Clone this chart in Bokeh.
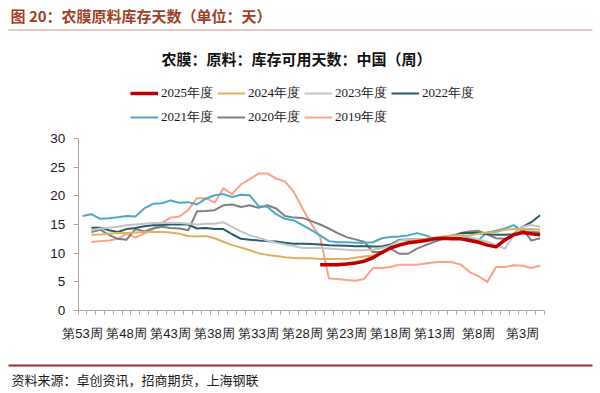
from bokeh.plotting import figure
from bokeh.models import Range1d, FixedTicker, Label, Legend, LegendItem, BoxAnnotation
from bokeh.embed import file_html
from bokeh.resources import INLINE

NA = float("nan")

# ---------------- data ----------------
weeks = list(range(53, 0, -1))          # 第53周 ... 第1周 (left -> right)
tick_weeks = [53, 48, 43, 38, 33, 28, 23, 18, 13, 8, 3]
tick_labels = ["第53周", "第48周", "第43周", "第38周", "第33周", "第28周",
               "第23周", "第18周", "第13周", "第8周", "第3周"]
y_ticks = [0, 5, 10, 15, 20, 25, 30]

y2025 = [NA] * 27 + [8.0, 8.0, 8.0, 8.1, 8.3, 8.6, 9.2, 10.1, 10.9, 11.4, 11.8, 12.0, 12.2,
                     12.5, 12.6, 12.5, 12.5, 12.2, 11.9, 11.4, 11.1, 12.3, 13.2, 13.6, 13.4, 13.2]
y2024 = [NA, 13.2, 13.25, 13.4, 13.5, 13.5, 13.6, 13.7, 13.7, 13.7, 13.6, 13.4, 13.0, 12.9,
         13.0, 12.6, 12.0, 11.4, 11.0, 10.5, 10.0, 9.7, 9.5, 9.3, 9.15, 9.1, 9.1, 9.0,
         9.0, 9.0, 9.0, 9.2, 9.4, 9.6, 10.0, 10.9, 11.6, 12.0, 12.3, 12.5, 12.7, 12.9,
         13.1, 13.1, 13.1, 13.4, 13.6, 13.7, 14.1, 14.2, 14.2, 14.2, 14.1]
y2023 = [NA, 14.0, 14.3, 14.45, 14.6, 14.85, 15.0, 15.15, 15.25, 15.25, 15.25, 15.25, 15.15,
         15.0, 15.15, 15.15, 15.4, 14.6, 13.8, 13.1, 12.7, 12.2, 11.8, 11.5, 11.25, 10.9,
         10.9, 10.9, 10.8, 10.7, 10.6, 10.5, 10.5, 10.6, 10.9, 11.3, 12.2, 12.4, 12.4, 12.4,
         12.5, 12.7, 12.8, 13.2, 12.8, 12.4, 12.0, 11.4, 10.8, 13.1, 14.6, 14.9, 14.6]
y2022 = [NA, 14.45, 14.45, 14.0, 13.7, 14.2, 14.4, 14.7, 14.85, 14.9, 15.0, 15.0, 15.0,
         14.3, 14.4, 14.2, 14.2, 13.3, 12.5, 12.35, 12.2, 12.1, 12.05, 11.8, 11.65, 11.65,
         11.6, 11.5, 11.4, 11.35, 11.3, 11.2, 11.2, 11.15, 11.15, 11.5, 12.3, 12.4, 12.4,
         12.4, 12.5, 12.5, 12.6, 13.5, 13.5, 13.5, 13.3, 13.2, 13.2, 13.3, 14.6, 15.4, 16.6]
y2021 = [16.5, 16.8, 16.0, 16.1, 16.25, 16.5, 16.4, 17.8, 18.6, 18.7, 19.2, 18.8, 18.9,
         18.5, 19.5, 20.1, 20.3, 19.8, 20.2, 20.1, 18.2, 18.1, 16.8, 16.0, 15.7, 14.9, 14.0,
         13.1, 12.1, 11.9, 11.9, 11.8, 11.8, 11.9, 12.6, 12.8, 12.9, 13.1, 13.5, 13.1, 12.5,
         12.5, 13.1, 13.3, 12.5, 12.3, 13.6, 13.9, 14.3, 14.9, 13.8, 13.8, 13.6]
y2020 = [NA, 13.7, 14.1, 13.2, 12.5, 12.35, 14.2, 13.8, 14.3, 14.6, 14.4, 14.3, 14.0, 17.3,
         17.35, 17.5, 18.35, 18.5, 18.05, 18.35, 17.9, 18.35, 17.8, 16.5, 16.2, 16.15, 15.6,
         15.0, 14.3, 13.5, 12.8, 12.4, 12.0, 10.2, 10.2, 10.8, 9.9, 9.9, 10.8, 11.4, 12.0,
         12.5, 13.1, 13.5, 13.8, 13.9, 13.3, 12.6, 12.5, 13.2, 14.3, 12.2, 12.6]
y2019 = [NA, 11.95, 12.1, 12.2, 12.5, 13.4, 12.7, 13.4, 14.2, 15.3, 16.2, 16.4, 17.5, 19.6,
         19.6, 18.8, 21.3, 20.3, 22.0, 22.9, 23.9, 23.9, 23.0, 22.5, 20.7, 17.8, 15.1, 12.8,
         5.6, 5.5, 5.3, 5.2, 5.5, 7.4, 7.4, 7.6, 8.0, 8.0, 8.0, 8.2, 8.4, 8.5, 8.4, 8.0,
         6.7, 6.0, 5.0, 7.6, 7.6, 7.9, 7.8, 7.4, 7.8]

series_names = ["2025年度", "2024年度", "2023年度", "2022年度", "2021年度", "2020年度", "2019年度"]
series_values = [y2025, y2024, y2023, y2022, y2021, y2020, y2019]
series_colors = ["#C00000", "#DEB25A", "#C4C4C4", "#255D6C", "#4BA9C6", "#7F7F7F", "#FF9F88"]
series_widths = [3.5, 2, 2, 2, 2, 2, 2]

# ---------------- layout geometry (page pixels) ----------------
W, H = 600, 393
PLOT_L, PLOT_R, PLOT_T, PLOT_B = 77.7, 544.0, 138.0, 310.0
n = len(weeks)
x_lo, x_hi = -0.5, n - 0.5
y_lo, y_hi = y_ticks[0], y_ticks[-1]
sx_unit = (PLOT_R - PLOT_L) / (x_hi - x_lo)
sy_unit = (PLOT_B - PLOT_T) / (y_hi - y_lo)
x_range = Range1d(x_lo - PLOT_L / sx_unit, x_hi + (W - PLOT_R) / sx_unit)
y_range = Range1d(y_lo - (H - PLOT_B) / sy_unit, y_hi + PLOT_T / sy_unit)


def sy(yp):          # page y (from top) -> screen y (from bottom of frame)
    return H - yp


p = figure(width=W, height=H, output_backend="svg", toolbar_location=None,
           x_range=x_range, y_range=y_range,
           min_border=0, min_border_left=0, min_border_right=0,
           min_border_top=0, min_border_bottom=0)
p.outline_line_color = None
p.xgrid.visible = False
p.ygrid.visible = False

idx = list(range(n))
renderers = {}
for k in [6, 5, 4, 3, 2, 1, 0]:
    renderers[k] = p.line(idx, series_values[k], line_color=series_colors[k],
                          line_width=series_widths[k], line_join="round")

# axes (fixed inside the frame)
tick_pos = [weeks.index(w) for w in tick_weeks]
xa, ya = p.xaxis[0], p.yaxis[0]
xa.fixed_location = y_lo
xa.bounds = (x_lo, x_hi)
ya.fixed_location = x_lo
ya.bounds = (y_lo, y_hi)
xa.ticker = FixedTicker(ticks=tick_pos, minor_ticks=[i - 0.5 for i in range(n + 1)])
xa.major_label_overrides = {tp: lab for tp, lab in zip(tick_pos, tick_labels)}
xa.major_tick_out = 0
xa.major_tick_in = 0
xa.minor_tick_out = 4
xa.minor_tick_in = 0
xa.major_label_standoff = 11
ya.ticker = FixedTicker(ticks=y_ticks)
ya.major_tick_out = 5
ya.major_tick_in = 0
ya.major_label_standoff = 8
for ax in (xa, ya):
    ax.axis_line_color = "#A6A6A6"
    ax.major_tick_line_color = "#A6A6A6"
    ax.major_label_text_font = "Liberation Sans"
    ax.major_label_text_color = "#1A1A1A"
xa.minor_tick_line_color = "#A6A6A6"
ya.minor_tick_line_color = None
xa.major_label_text_font_size = "13px"
ya.major_label_text_font_size = "13.5px"

# legend
items = [LegendItem(label=series_names[k], renderers=[renderers[k]]) for k in range(7)]
legend = Legend(items=items, ncols=4, orientation="horizontal",
                location=(130, sy(127)),
                glyph_width=28, glyph_height=20, label_standoff=3, spacing=4,
                padding=0, margin=0, border_line_alpha=0, background_fill_alpha=0,
                label_text_font="Liberation Serif", label_text_font_size="13px",
                label_text_color="#1A1A1A", label_height=20)
p.add_layout(legend)

# header, title, rules, source
p.add_layout(Label(x=10, y=sy(15), x_units="screen", y_units="screen",
                   text="图 20：农膜原料库存天数（单位：天）", text_font="Noto Sans CJK SC",
                   text_font_style="bold", text_font_size="15px", text_color="#A33E1F",
                   text_baseline="middle", text_align="left"))
p.add_layout(BoxAnnotation(left=8, right=592, top=sy(29), bottom=sy(30),
                           left_units="screen", right_units="screen",
                           top_units="screen", bottom_units="screen",
                           fill_color="#CF8F88", fill_alpha=1, line_alpha=0))
p.add_layout(Label(x=296, y=sy(58), x_units="screen", y_units="screen",
                   text="农膜：原料：库存可用天数：中国（周）", text_font="Noto Sans CJK SC",
                   text_font_style="bold", text_font_size="15px", text_color="#111111",
                   text_baseline="middle", text_align="center"))
p.add_layout(BoxAnnotation(left=8, right=592, top=sy(364), bottom=sy(366),
                           left_units="screen", right_units="screen",
                           top_units="screen", bottom_units="screen",
                           fill_color="#9C2B2B", fill_alpha=1, line_alpha=0))
p.add_layout(Label(x=11, y=sy(379), x_units="screen", y_units="screen",
                   text="资料来源：卓创资讯，招商期货，上海钢联", text_font="Noto Sans CJK SC",
                   text_font_size="13px", text_color="#1A1A1A",
                   text_baseline="middle", text_align="left"))

open("out.html", "w").write(file_html(p, INLINE))
